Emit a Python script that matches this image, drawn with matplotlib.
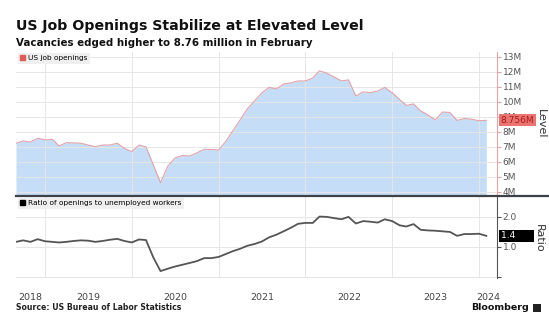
import numpy as np
import pandas as pd
import matplotlib
matplotlib.use('Agg')
import matplotlib.pyplot as plt
import matplotlib.dates as mdates
import matplotlib.transforms as mtransforms
from matplotlib.patches import Patch, Rectangle
from matplotlib.lines import Line2D

# monthly data, Sep 2018 - Feb 2024
dates = pd.date_range('2018-09-01', '2024-02-01', freq='MS')
openings = [7.23, 7.38, 7.31, 7.56, 7.45, 7.49, 7.05, 7.27, 7.25, 7.23,
            7.11, 7.00, 7.11, 7.11, 7.23, 6.89, 6.67, 7.11, 6.98, 5.78,
            4.60, 5.71, 6.25, 6.41, 6.38, 6.58, 6.83, 6.81, 6.78, 7.38,
            8.05, 8.78, 9.51, 10.05, 10.58, 10.95, 10.85, 11.18, 11.25, 11.38,
            11.38, 11.58, 12.05, 11.90, 11.65, 11.38, 11.45, 10.38, 10.65, 10.60,
            10.71, 10.95, 10.58, 10.15, 9.75, 9.85, 9.38, 9.11, 8.78, 9.31,
            9.28, 8.75, 8.88, 8.83, 8.73, 8.756]
ratio = [1.17, 1.22, 1.17, 1.26, 1.19, 1.17, 1.15, 1.17, 1.20, 1.22,
         1.21, 1.17, 1.20, 1.24, 1.27, 1.20, 1.15, 1.25, 1.23, 0.65,
         0.20, 0.28, 0.35, 0.41, 0.47, 0.53, 0.63, 0.63, 0.67, 0.77,
         0.86, 0.94, 1.04, 1.10, 1.18, 1.32, 1.41, 1.52, 1.64, 1.77,
         1.80, 1.80, 2.01, 2.00, 1.96, 1.92, 2.00, 1.78, 1.86, 1.84,
         1.81, 1.92, 1.86, 1.72, 1.68, 1.76, 1.57, 1.55, 1.54, 1.52,
         1.50, 1.37, 1.43, 1.43, 1.44, 1.37]
level_ticks = [4, 5, 6, 7, 8, 9, 10, 11, 12, 13]
level_labels = [f'{v}M' for v in level_ticks]
ratio_ticks = [0, 1, 2]
ratio_labels = ['', '1.0', '2.0']
years = [2018, 2019, 2020, 2021, 2022, 2023, 2024]

W, H = 549, 316
fig = plt.figure(figsize=(W / 100, H / 100), dpi=100)
fig.patch.set_facecolor('white')


def box(x0, y0, x1, y1):
    return [x0 / W, 1 - y1 / H, (x1 - x0) / W, (y1 - y0) / H]


ax1 = fig.add_axes(box(16, 52, 497, 195))
ax2 = fig.add_axes(box(16, 197, 497, 278), sharex=ax1)

xmin = pd.Timestamp('2018-09-01')
xmax = pd.Timestamp('2024-03-17')
grid_c = '#e6e6e6'

for ax in (ax1, ax2):
    for s in ('top', 'left', 'bottom'):
        ax.spines[s].set_visible(False)
    ax.yaxis.tick_right()
    ax.set_xlim(xmin, xmax)
    ax.xaxis.set_major_locator(mdates.YearLocator())
    ax.grid(True, color=grid_c, lw=0.7)
    ax.set_axisbelow(False)
    ax.tick_params(axis='y', direction='out', length=3, pad=1, labelsize=6.5,
                   colors='#555555')
    ax.tick_params(axis='x', which='both', length=0)

# top panel: job openings
ax1.fill_between(dates, openings, 0, color='#c6ddf7', zorder=1, lw=0)
ax1.plot(dates, openings, color='#e0a2a8', lw=0.8, zorder=3)
ax1.set_ylim(3.78, 13.31)
ax1.set_yticks(level_ticks)
ax1.set_yticklabels(level_labels)
ax1.spines['right'].set_color('#e3a4a8')
ax1.tick_params(axis='y', color='#e3a4a8')
ax1.legend(handles=[Patch(color='#e05a5a', label='US job openings')],
           loc='upper left', bbox_to_anchor=(0.002, 1.0), fontsize=5.3,
           frameon=True, facecolor='#efefef', edgecolor='none', framealpha=1,
           handlelength=0.7, handleheight=0.7, handletextpad=0.3,
           borderpad=0.35, borderaxespad=0.1, fancybox=False)

# bottom panel: ratio
ax2.plot(dates, ratio, color='#555555', lw=1.3, zorder=3)
ax2.set_ylim(-0.03, 2.66)
ax2.set_yticks(ratio_ticks)
ax2.set_yticklabels(ratio_labels)
ax2.spines['right'].set_color('#555555')
ax2.tick_params(axis='y', color='#555555')
ax2.legend(handles=[Patch(color='black', label='Ratio of openings to unemployed workers')],
           loc='upper left', bbox_to_anchor=(0.002, 1.0), fontsize=5.3,
           frameon=True, facecolor='#efefef', edgecolor='none', framealpha=1,
           handlelength=0.7, handleheight=0.7, handletextpad=0.3,
           borderpad=0.35, borderaxespad=0.1, fancybox=False)

# year labels centred in the visible part of each year
centres = []
for y in years:
    a = max(pd.Timestamp(f'{y}-01-01'), xmin)
    b = min(pd.Timestamp(f'{y + 1}-01-01'), xmax)
    centres.append(a + (b - a) / 2)
ax2.set_xticks(mdates.date2num(centres), minor=True)
ax2.set_xticklabels([str(y) for y in years], minor=True)
ax2.tick_params(axis='x', which='minor', labelsize=6.8, colors='#444444', pad=11)
ax2.tick_params(axis='x', which='major', labelbottom=False)
ax1.tick_params(axis='x', which='both', labelbottom=False)

# last value tags
tr1 = mtransforms.blended_transform_factory(ax1.transAxes, ax1.transData)
ax1.text(1.008, openings[-1], f'{openings[-1]:.3f}M', transform=tr1, fontsize=6.5,
         color='#a8161b', va='center', ha='left', clip_on=False, zorder=5,
         bbox=dict(boxstyle='square,pad=0.15', facecolor='#ea7470', edgecolor='none'))
tr2 = mtransforms.blended_transform_factory(ax2.transAxes, ax2.transData)
ax2.text(1.008, ratio[-1], f'{ratio[-1]:.1f}      ', transform=tr2, fontsize=6.5,
         color='white', va='center', ha='left', clip_on=False, zorder=5,
         bbox=dict(boxstyle='square,pad=0.2', facecolor='black', edgecolor='none'))

fig.text(541 / W, 1 - 124 / H, 'Level', rotation=270, fontsize=8, color='#333333',
         ha='center', va='center')
fig.text(539 / W, 1 - 238 / H, 'Ratio', rotation=270, fontsize=8, color='#333333',
         ha='center', va='center')

# separator between panels
fig.add_artist(Line2D([16 / W, 1.0], [1 - 195.5 / H] * 2, color='#3d4248', lw=1.6))

fig.text(16 / W, 1 - 26 / H, 'US Job Openings Stabilize at Elevated Level',
         fontsize=10.2, fontweight='bold', color='#111111', va='center')
fig.text(16 / W, 1 - 43 / H, 'Vacancies edged higher to 8.76 million in February',
         fontsize=7.4, fontweight='bold', color='#111111', va='center')
fig.text(16 / W, 1 - 308 / H, 'Source: US Bureau of Labor Statistics',
         fontsize=5.6, fontweight='bold', color='#222222', va='center')
fig.text(529 / W, 1 - 308 / H, 'Bloomberg', fontsize=6.8, fontweight='bold',
         color='#111111', va='center', ha='right')
fig.add_artist(Rectangle((533 / W, 1 - 312 / H), 8 / W, 8 / H, transform=fig.transFigure,
                         facecolor='#222222', edgecolor='none'))

fig.savefig('out.png', dpi=100)
